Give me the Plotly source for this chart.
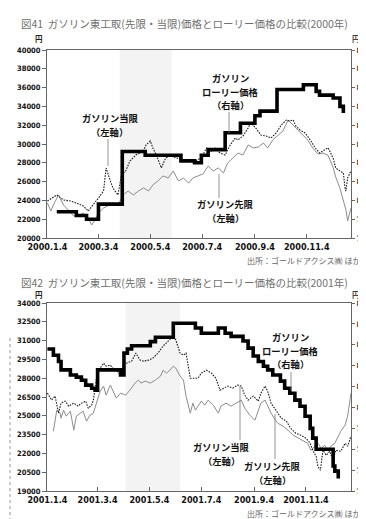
import pandas as pd
import plotly.graph_objects as go
from plotly.subplots import make_subplots

W, H = 366, 519

# ---------------- 図41 (2000) ----------------
start_2000 = "2000-01-04"
lorry_days_2000 = [11, 34, 46, 60, 88, 115, 157, 173, 181, 189, 209, 227, 244, 250, 270, 301, 316, 320, 336, 344, 348]
lorry_2000 = [79.4, 79.2, 79.0, 79.8, 82.6, 82.4, 82.1, 82.0, 82.4, 82.7, 83.6, 84.1, 84.5, 84.75, 85.9, 86.15,
              85.8, 85.6, 85.45, 85.0, 84.65]

spot_days_2000 = [0, 11, 19, 27, 34, 42, 48, 54, 60, 66, 69, 74, 77, 83, 87, 92, 97, 104, 113, 116,
                  121, 124, 128, 134, 139, 144, 151, 160, 168, 174, 181, 187, 193, 197, 203, 209, 215, 221, 224, 230,
                  236, 239, 245, 251, 257, 263, 269, 275, 281, 285, 289, 292, 297, 303, 309, 315, 320, 325, 330, 336,
                  339, 344, 348, 350, 351, 353, 357]
spot_2000 = [23940, 24580, 24040, 23940, 23720, 23410, 22870, 23510, 24260, 25000,
             27450, 26070, 25320, 24580, 26700, 27130, 28190, 28830, 29260, 29900,
             30320, 29580, 28830, 27450, 28510, 28730, 28510, 28300, 28190, 28190,
             28510, 29580, 29260, 29580, 29040, 28830, 29900, 30640, 30430, 30850,
             31700, 32240, 31700, 30960, 30850, 30640, 31170, 32020, 32550, 32450,
             32550, 31920, 31490, 31170, 30430, 29580, 29040, 29360, 29600, 28500,
             27450, 27130, 26920, 25320, 25000, 26380, 27130]

far_days_2000 = [0, 4, 7, 13, 19, 25, 31, 36, 42, 48, 52, 56, 60, 66, 72, 77, 83, 89, 95, 101,
                 107, 113, 119, 124, 130, 136, 142, 148, 154, 160, 166, 171, 177, 183, 189, 195, 201, 207, 212, 218,
                 224, 230, 236, 242, 248, 254, 259, 265, 271, 277, 283, 289, 295, 301, 306, 312, 318, 324, 330, 336,
                 339, 344, 348, 351, 353, 356, 357]
far_2000 = [23720, 22870, 23510, 24580, 23510, 22870, 22340, 22340, 22660, 22130,
            21380, 21920, 22660, 23190, 23510, 23720, 23510, 24580, 25000, 24580,
            25000, 25320, 25000, 25640, 26070, 26600, 26380, 27130, 26070, 26380,
            25850, 26380, 26600, 26810, 27660, 27130, 27450, 26920, 27980, 28510,
            29040, 28830, 29900, 29580, 29680, 30110, 29580, 30430, 30960, 31390,
            32550, 32020, 31390, 30960, 30430, 29580, 28940, 29040, 28800, 27500,
            26500, 25300, 24000, 23000, 21810, 22870, 23190]

band_days_2000 = [85, 146]
tick_dates_2000 = ["2000-01-04", "2000-03-04", "2000-05-04", "2000-07-04", "2000-09-04", "2000-11-04"]
tick_labels_2000 = ["2000.1.4", "2000.3.4", "2000.5.4", "2000.7.4", "2000.9.4", "2000.11.4"]

# ---------------- 図42 (2001) ----------------
start_2001 = "2001-01-04"
lorry_days_2001 = [0, 7, 13, 16, 27, 34, 40, 45, 52, 56, 59, 86, 90, 94, 99, 121, 127, 148, 174, 181,
                   201, 209, 216, 230, 236, 242, 248, 254, 259, 265, 274, 279, 285, 291, 297, 303, 309, 312, 316, 336,
                   338, 342]
lorry_2001 = [82.8, 82.5, 82.2, 81.8, 81.55, 81.45, 81.3, 81.07, 80.92, 80.83,
              81.8, 81.55, 82.6, 82.8, 82.95, 83.15, 83.36, 84.03, 83.8, 83.55,
              83.8, 83.55, 83.4, 83.18, 82.84, 82.46, 82.2, 81.97, 81.8, 81.55,
              81.26, 80.92, 80.68, 80.35, 80.06, 79.58, 79.0, 78.53, 78.0, 77.2,
              76.95, 76.6]

spot_days_2001 = [0, 5, 9, 13, 16, 21, 25, 31, 36, 40, 45, 48, 52, 54, 56, 58, 62, 66, 69, 74,
                  77, 81, 86, 89, 93, 99, 104, 109, 113, 119, 124, 130, 136, 142, 148, 151, 156, 160, 163, 168,
                  173, 177, 181, 187, 193, 198, 203, 207, 212, 218, 224, 228, 232, 236, 242, 248, 251, 256, 259, 263,
                  269, 275, 281, 286, 292, 298, 304, 309, 312, 316, 318, 321, 324, 328, 332, 336, 339, 345, 350, 353,
                  357]
spot_2001 = [26810, 26250, 26570, 25210, 26010, 26170, 25770, 26010, 25770, 26010,
             26170, 25610, 25850, 26250, 27210, 28170, 28800, 29200, 28960, 29040,
             28800, 28640, 28240, 29040, 29200, 29360, 30000, 29440, 29360, 29440,
             29600, 30000, 30560, 30960, 31360, 31040, 30000, 29840, 30000, 28000,
             28000, 28000, 28400, 28640, 28400, 28000, 27050, 27210, 27370, 27210,
             27450, 27370, 26650, 26250, 26570, 26170, 26810, 27370, 26970, 26010,
             25370, 24810, 24570, 24010, 23610, 23450, 23210, 22810, 22250, 21770,
             20970, 20650, 22250, 21850, 22170, 21450, 22250, 22170, 22810, 22570,
             23370]

far_days_2001 = [7, 9, 11, 15, 16, 19, 22, 27, 31, 34, 39, 42, 46, 50, 54, 58, 62, 66, 69, 74,
                 77, 81, 86, 92, 97, 103, 107, 110, 115, 121, 127, 133, 136, 140, 144, 148, 151, 156, 160, 163,
                 168, 171, 174, 177, 181, 185, 189, 195, 201, 204, 210, 216, 222, 228, 232, 238, 244, 248, 251, 256,
                 259, 263, 268, 271, 277, 283, 289, 295, 301, 306, 310, 315, 318, 322, 326, 330, 333, 338, 342, 345,
                 350, 353, 357]
far_2001 = [23770, 24650, 25450, 25210, 24810, 25450, 24970, 25370, 23850, 24970,
            25210, 25370, 24570, 25050, 25210, 26010, 26970, 27370, 26650, 27450,
            26970, 26410, 26810, 26650, 27050, 27610, 27850, 27610, 27770, 27610,
            27850, 28170, 28640, 28400, 28640, 28960, 28800, 28170, 27850, 26570,
            25210, 26010, 25450, 25770, 26170, 25850, 26250, 25850, 25210, 25770,
            26010, 25770, 26010, 26250, 25610, 25050, 24650, 25450, 26010, 26250,
            25770, 25210, 24650, 24410, 24170, 23850, 23450, 23210, 22970, 22810,
            22250, 22570, 22810, 22410, 22650, 22250, 22570, 22810, 23370, 23770,
            24250, 24970, 26810]

band_days_2001 = [92, 156]
tick_dates_2001 = ["2001-01-04", "2001-03-04", "2001-05-04", "2001-07-04", "2001-09-04", "2001-11-04"]
tick_labels_2001 = ["2001.1.4", "2001.3.4", "2001.5.4", "2001.7.4", "2001.9.4", "2001.11.4"]

titles = ["図41  ガソリン東工取(先限・当限)価格とローリー価格の比較(2000年)",
          "図42  ガソリン東工取(先限・当限)価格とローリー価格の比較(2001年)"]
source_text = "出所：ゴールドアクシス㈱ ほか"


def dates(start, days):
    return pd.Timestamp(start) + pd.to_timedelta(days, unit="D")


def P(x, y):
    return x / W, 1 - y / H


fig = make_subplots(rows=2, cols=1, specs=[[{"secondary_y": True}], [{"secondary_y": True}]])

FAR = dict(color="#8c8c8c", width=1)
SPOT = dict(color="#1e1e1e", width=1.1, dash="1.6px,1.2px")
LORRY = dict(color="#000000", width=3.6, shape="hv")

rows = [
    (1, start_2000, far_days_2000, far_2000, spot_days_2000, spot_2000, lorry_days_2000, lorry_2000),
    (2, start_2001, far_days_2001, far_2001, spot_days_2001, spot_2001, lorry_days_2001, lorry_2001),
]
for row, st, fd, fv, sd, sv, ld, lv in rows:
    fig.add_trace(go.Scatter(x=dates(st, fd), y=fv, mode="lines", line=FAR, name="ガソリン先限",
                             showlegend=False, hoverinfo="skip"), row=row, col=1, secondary_y=False)
    fig.add_trace(go.Scatter(x=dates(st, sd), y=sv, mode="lines", line=SPOT, name="ガソリン当限",
                             showlegend=False, hoverinfo="skip"), row=row, col=1, secondary_y=False)
    fig.add_trace(go.Scatter(x=dates(st, ld), y=lv, mode="lines", line=LORRY, name="ガソリンローリー価格",
                             showlegend=False, hoverinfo="skip"), row=row, col=1, secondary_y=True)

# shaded periods
fig.add_vrect(x0=dates(start_2000, band_days_2000[0]), x1=dates(start_2000, band_days_2000[1]),
              row=1, col=1, fillcolor="#f3f3f3", line_width=0, layer="below")
fig.add_vrect(x0=dates(start_2001, band_days_2001[0]), x1=dates(start_2001, band_days_2001[1]),
              row=2, col=1, fillcolor="#f3f3f3", line_width=0, layer="below")

NARROW = "Liberation Sans Narrow, Arial Narrow, DejaVu Sans Condensed, sans-serif"
TICKFONT = dict(family=NARROW, size=7.5, color="#111", weight="bold")
XTICKFONT = dict(family=NARROW, size=9, color="#111", weight="bold")
RTICKFONT = dict(family=NARROW, size=7.5, color="#333", weight="bold")

xdom = [39 / W, 343 / W]
ydoms = {1: [1 - 230 / H, 1 - 42 / H], 2: [1 - 483 / H, 1 - 295 / H]}
xranges = {1: [pd.Timestamp(start_2000) - pd.Timedelta(hours=12), pd.Timestamp("2000-12-26")],
           2: [pd.Timestamp(start_2001) - pd.Timedelta(hours=12), pd.Timestamp("2001-12-27")]}
ticks = {1: (tick_dates_2000, tick_labels_2000), 2: (tick_dates_2001, tick_labels_2001)}
yl = {1: dict(range=[20000, 40000], tick0=20000, dtick=2000), 2: dict(range=[19000, 34000], tick0=19000, dtick=1500)}
yr = {1: dict(range=[78, 88], tick0=78, dtick=1), 2: dict(range=[76, 85], tick0=76, dtick=1)}

for r in (1, 2):
    fig.update_xaxes(row=r, col=1, domain=xdom, type="date", range=xranges[r], automargin=False,
                     tickvals=ticks[r][0], ticktext=ticks[r][1], tickfont=XTICKFONT,
                     showgrid=False, zeroline=False, showline=True, linecolor="#666", linewidth=1,
                     mirror=True, ticks="inside", ticklen=4, tickcolor="#666")
    fig.update_yaxes(row=r, col=1, secondary_y=False, domain=ydoms[r], **yl[r], tickformat="d",
                     automargin=False, tickfont=TICKFONT, showgrid=False, zeroline=False, showline=True,
                     linecolor="#666", linewidth=1, mirror=True, ticks="outside", ticklen=4,
                     tickcolor="#666")
    fig.update_yaxes(row=r, col=1, secondary_y=True, **yr[r], tickfont=RTICKFONT, showgrid=False,
                     automargin=False, zeroline=False, showline=False, ticks="outside", ticklen=3,
                     tickcolor="#666", showticklabels=True, ticklabeloverflow="allow", side="right")

ann = []
JP = "Noto Sans CJK JP"


def text(x, y, s, size=10, color="#111", weight="bold", xanchor="center"):
    px, py = P(x, y)
    ann.append(dict(x=px, y=py, xref="paper", yref="paper", text=s, showarrow=False,
                    xanchor=xanchor, yanchor="middle", align="center", borderpad=0,
                    font=dict(family=JP, size=size, color=color, weight=weight)))


def label(x, y_first, lines, step=13.6, size=9.3):
    for i, s in enumerate(lines):
        text(x, y_first + i * step, s, size=size)


# titles
text(12, 15, titles[0], size=10.5, color="#707070", weight="normal", xanchor="left")
text(12, 274, titles[1], size=10.5, color="#707070", weight="normal", xanchor="left")
# units
for y in (31, 286):
    text(31, y, "円", size=7.5, color="#222")
    text(348, y, "円", size=7.5, color="#444")
# sources
text(238, 252, source_text, size=8, color="#666", weight="normal", xanchor="left")
text(238, 505, source_text, size=8, color="#666", weight="normal", xanchor="left")

# series labels
label(102, 110, ["ガソリン当限", "（左軸）"])
label(222, 70, ["ガソリン", "ローリー価格", "（右軸）"])
label(217, 196, ["ガソリン先限", "（左軸）"])
label(282, 329, ["ガソリン", "ローリー価格", "（右軸）"])
label(213, 439, ["ガソリン当限", "（左軸）"])
label(264, 458, ["ガソリン先限", "（左軸）"])

shapes = []


def pointer(x, y0, y1):
    a = P(x, y0)
    b = P(x, y1)
    shapes.append(dict(type="line", xref="paper", yref="paper", x0=a[0], y0=a[1], x1=b[0], y1=b[1],
                       line=dict(color="#777", width=0.8)))


pointer(100, 131, 158)
pointer(221, 104, 125)
pointer(211, 190, 166)
pointer(283, 364, 382)
pointer(232, 432, 378)
pointer(267, 451, 406)

# page shadow on the right edge and dashed margin mark (scan decoration)
for x0, x1, c in [(357, 360, "#f2f2f2"), (360, 362, "#e4e4e4"), (362, 364, "#d6d6d6"), (364, 366, "#c8c8c8")]:
    a = P(x0, 20)
    b = P(x1, 519)
    shapes.append(dict(type="rect", xref="paper", yref="paper", x0=a[0], x1=b[0], y0=b[1], y1=a[1],
                       fillcolor=c, line=dict(width=0), layer="below"))
a = P(2, 330)
b = P(2, 519)
shapes.append(dict(type="line", xref="paper", yref="paper", x0=a[0], x1=b[0], y0=a[1], y1=b[1],
                   line=dict(color="#999", width=1, dash="dot")))

fig.update_layout(width=W, height=H, margin=dict(l=0, r=0, t=0, b=0),
                  paper_bgcolor="white", plot_bgcolor="rgba(0,0,0,0)",
                  showlegend=False, annotations=fig.layout.annotations + tuple(ann),
                  shapes=fig.layout.shapes + tuple(shapes))

fig.write_html("out.html")
